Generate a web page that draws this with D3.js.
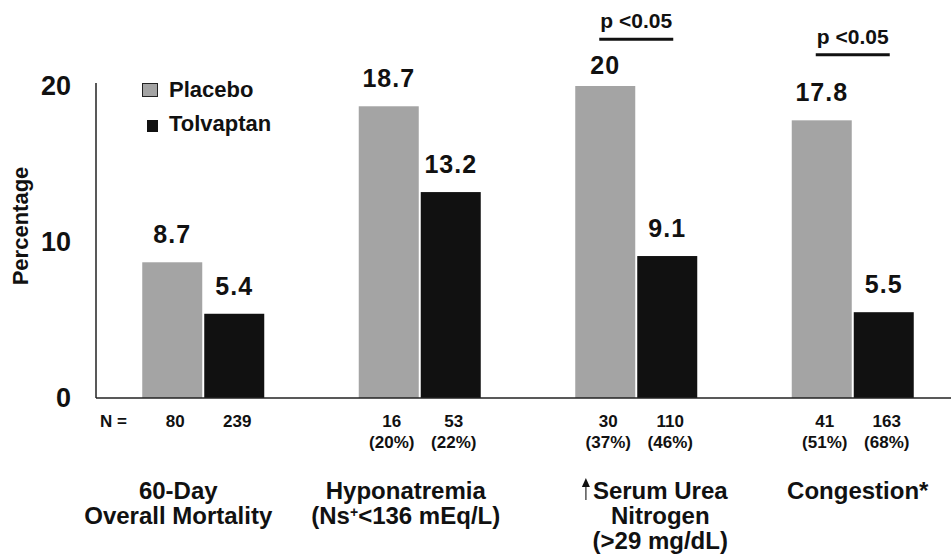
<!DOCTYPE html>
<html>
<head>
<meta charset="utf-8">
<script src="https://cdn.jsdelivr.net/npm/d3@7/dist/d3.min.js"></script>
<style>
  html, body { margin: 0; padding: 0; background: #fff; }
  svg { display: block; }
  text { fill: #111; font-family: "Liberation Sans", Arial, sans-serif; font-weight: bold; }
</style>
</head>
<body>
<svg id="chart" width="951" height="558"></svg>
<script>
// Outcome groups and their two-line captions
const groups = ["mortality", "hyponatremia", "bun", "congestion"];
const captionLine1 = ["60-Day", "Hyponatremia", "Serum Urea", "Congestion*"];
const captionLine2 = ["Overall Mortality", "(Ns|+|<136 mEq/L)", "Nitrogen", ""];
const captionLine3 = ["", "", "(>29 mg/dL)", ""];

// Event rates (%) by arm
const series = ["Placebo", "Tolvaptan"];
const placebo = [8.7, 18.7, 20, 17.8];
const tolvaptan = [5.4, 13.2, 9.1, 5.5];

// Patient counts under each bar
const placeboN = ["80", "16", "30", "41"];
const placeboPct = ["", "(20%)", "(37%)", "(51%)"];
const tolvaptanN = ["239", "53", "110", "163"];
const tolvaptanPct = ["", "(22%)", "(46%)", "(68%)"];

// Y axis ticks
const yTicks = [0, 10, 20];

// Significance brackets (height in % units, null = none)
const sigLevel = [null, null, 23, 22];
const sigText = "p <0.05";

const colors = { Placebo: "#a4a4a4", Tolvaptan: "#111111" };

const svg = d3.select("#chart");
const margin = { left: 95, right: -10, top: 86, bottom: 160 };
const W = 951, H = 558;

const x0 = d3.scaleBand().domain(groups).range([margin.left, W - margin.right]).padding(0);
const barW = 60, barGap = 2;
const x1 = d3.scaleBand().domain(series)
  .range([x0.bandwidth() / 2 - barW - barGap / 2, x0.bandwidth() / 2 + barW + barGap / 2])
  .paddingInner(barGap / (barW + barGap));
const y = d3.scaleLinear().domain([0, 20]).range([H - 160, margin.top]);

const rows = groups.map((g, i) => ({
  g, i,
  vals: [
    { s: "Placebo", v: placebo[i], n: placeboN[i], pct: placeboPct[i] },
    { s: "Tolvaptan", v: tolvaptan[i], n: tolvaptanN[i], pct: tolvaptanPct[i] }
  ]
}));

// Bars
const gGroups = svg.append("g").selectAll("g").data(rows).join("g")
  .attr("transform", d => `translate(${x0(d.g)},0)`);

gGroups.selectAll("rect").data(d => d.vals).join("rect")
  .attr("x", d => x1(d.s))
  .attr("width", x1.bandwidth())
  .attr("y", d => y(d.v))
  .attr("height", d => y(0) - y(d.v))
  .attr("fill", d => colors[d.s]);

// Value labels above bars (kept clear of any significance bracket)
gGroups.each(function (d) {
  const g = d3.select(this);
  const sig = sigLevel[d.i];
  d.vals.forEach(v => {
    let ly = y(v.v) - 19;
    if (sig !== null) ly = Math.max(ly, y(sig) + 35);
    g.append("text")
      .attr("x", x1(v.s) + x1.bandwidth() / 2)
      .attr("y", ly)
      .attr("text-anchor", "middle")
      .style("font-size", "25px")
      .style("letter-spacing", "1px")
      .text(d3.format(".1~f")(v.v));
  });
  // N and percentage rows
  d.vals.forEach(v => {
    const cx = x1(v.s) + x1.bandwidth() / 2 + 3;
    g.append("text").attr("x", cx).attr("y", 427).attr("text-anchor", "middle")
      .style("font-size", "17px").text(v.n);
    if (v.pct) g.append("text").attr("x", cx).attr("y", 448).attr("text-anchor", "middle")
      .style("font-size", "17px").text(v.pct);
  });
  // Significance bracket
  if (sig !== null) {
    const xa = x1("Placebo") + x1.bandwidth() / 2 - 6;
    const xb = x1("Tolvaptan") + x1.bandwidth() / 2 + 6;
    g.append("line").attr("x1", xa).attr("x2", xb)
      .attr("y1", y(sig)).attr("y2", y(sig))
      .attr("stroke", "#111").attr("stroke-width", 3);
    g.append("text").attr("x", (xa + xb) / 2).attr("y", y(sig) - 11)
      .attr("text-anchor", "middle").style("font-size", "21px").text(sigText);
  }
});

// "N =" row header
svg.append("text").attr("x", 100).attr("y", 427).style("font-size", "17px").text("N =");

// Axes
const yAxis = d3.axisLeft(y).tickValues(yTicks).tickSize(0).tickPadding(25).tickFormat(d3.format("d"));
const gy = svg.append("g").attr("transform", `translate(${margin.left + 1},0)`).call(yAxis);
gy.select(".domain").remove();
gy.selectAll("text").style("font-size", "27px").style("font-family", "'Liberation Sans', Arial, sans-serif")
  .style("font-weight", "bold").attr("fill", "#111");

svg.append("line").attr("x1", margin.left + 1).attr("x2", margin.left + 1)
  .attr("y1", y(20.2)).attr("y2", y(0)).attr("stroke", "#222").attr("stroke-width", 1.5);
svg.append("line").attr("x1", margin.left + 1).attr("x2", W)
  .attr("y1", y(0)).attr("y2", y(0)).attr("stroke", "#222").attr("stroke-width", 1.5);

// Y axis title
svg.append("text")
  .attr("transform", `translate(28,226) rotate(-90)`)
  .attr("text-anchor", "middle")
  .style("font-size", "22px")
  .text("Percentage");

// Legend
const legend = svg.append("g");
legend.append("rect").attr("x", 142.5).attr("y", 83.5).attr("width", 15).attr("height", 13)
  .attr("fill", colors.Placebo).attr("stroke", "#222").attr("stroke-width", 1);
legend.append("rect").attr("x", 147).attr("y", 120).attr("width", 11).attr("height", 12)
  .attr("fill", colors.Tolvaptan);
legend.append("text").attr("x", 169).attr("y", 97).style("font-size", "22px").text(series[0]);
legend.append("text").attr("x", 169).attr("y", 131).style("font-size", "22px").text(series[1]);

// Category captions under the axis
const captionShift = [-25, -14, 24, 5];
groups.forEach((g, i) => {
  const cx = x0(g) + x0.bandwidth() / 2 + captionShift[i];
  const t = svg.append("text").attr("text-anchor", "middle").style("font-size", "24px");
  t.append("tspan").attr("x", cx).attr("y", 499).text(captionLine1[i]);
  if (captionLine2[i]) {
    const parts = captionLine2[i].split("|");
    const l2 = t.append("tspan").attr("x", cx).attr("y", 524);
    if (parts.length === 3) {
      l2.text(parts[0]);
      t.append("tspan").attr("dy", -7).style("font-size", "14px").text(parts[1]);
      t.append("tspan").attr("dy", 7).text(parts[2]);
    } else {
      l2.text(parts[0]);
    }
  }
  if (captionLine3[i]) t.append("tspan").attr("x", cx).attr("y", 549).text(captionLine3[i]);
  // "increased" arrow in front of the serum urea nitrogen caption
  if (g === "bun") {
    const first = t.select("tspan").node();
    const bb = first.getBBox();
    const ax = bb.x - 7;
    svg.append("line").attr("x1", ax).attr("x2", ax).attr("y1", 486).attr("y2", 500)
      .attr("stroke", "#555").attr("stroke-width", 1.5);
    svg.append("path").attr("d", `M${ax - 4},487 L${ax},478 L${ax + 4},487 Z`).attr("fill", "#111");
  }
});
</script>
</body>
</html>
